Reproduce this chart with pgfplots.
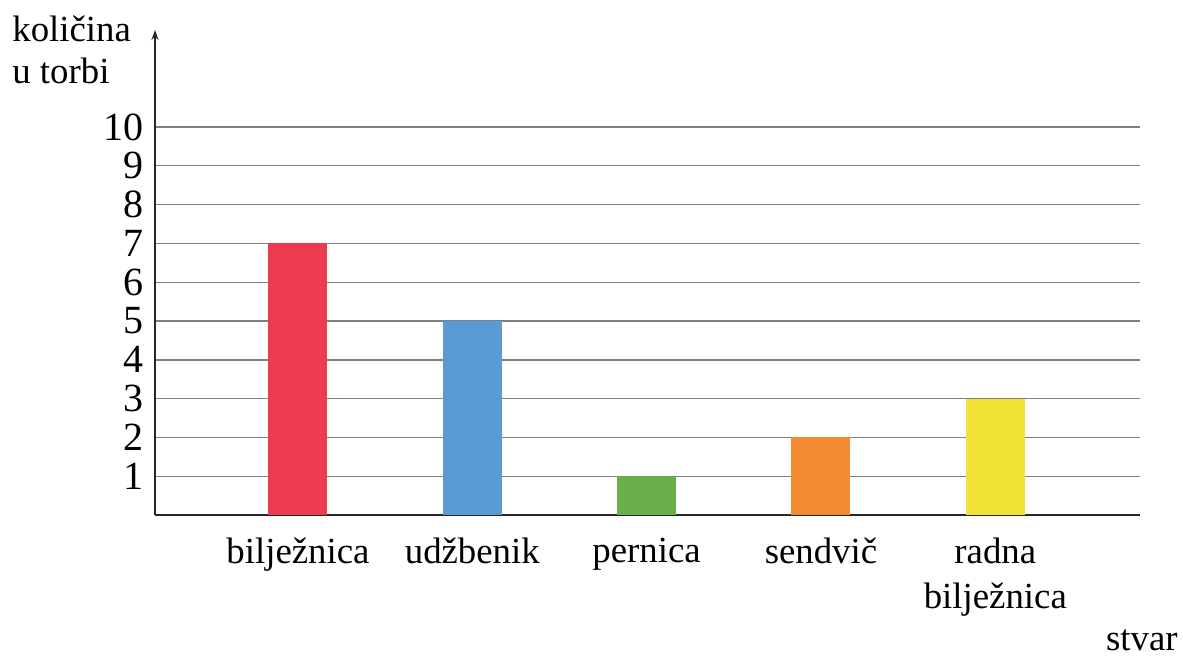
\documentclass[border=0pt]{standalone}
\usepackage{pgfplots}
\pgfplotsset{compat=1.18}
\usepackage{fontspec}
\setmainfont{Liberation Serif}
\usetikzlibrary{arrows.meta}
\definecolor{cred}{HTML}{EE3A4F}
\definecolor{cblue}{HTML}{5B9BD5}
\definecolor{cgreen}{HTML}{6AAE4A}
\definecolor{corange}{HTML}{F38A31}
\definecolor{cyellow}{HTML}{F0E335}
\begin{document}
\begin{tikzpicture}
\begin{axis}[
  at={(0,0)}, anchor=south west,
  scale only axis,
  width=492.5pt, height=242.5pt,
  xmin=0.18, xmax=5.83, ymin=0, ymax=12.5,
  axis x line=bottom, axis y line=left,
  x axis line style={-},
  y axis line style={-{Stealth[length=5pt,width=3.5pt]}},
  axis line style={color=black!85, line width=0.8pt},
  ytick={1,...,10},
  ymajorgrids,
  grid style={color=black!50, line width=0.7pt},
  major tick length=0pt,
  xtick={1,2,3,4,5},
  xticklabels={bilježnica,udžbenik,pernica,sendvič,radna\\bilježnica},
  xticklabel style={align=center, font=\fontsize{18.4pt}{22.5pt}\selectfont, yshift=-8pt},
  yticklabel style={font=\fontsize{20pt}{22pt}\selectfont, xshift=-2pt},
  /pgf/number format/assume math mode=true,
  ybar, bar width=29.5pt,
]
\addplot[fill=cred, draw=none, bar shift=0pt] coordinates {(1,7)};
\addplot[fill=cblue, draw=none, bar shift=0pt] coordinates {(2,5)};
\addplot[fill=cgreen, draw=none, bar shift=0pt] coordinates {(3,1)};
\addplot[fill=corange, draw=none, bar shift=0pt] coordinates {(4,2)};
\addplot[fill=cyellow, draw=none, bar shift=0pt] coordinates {(5,3)};
\end{axis}
\node[anchor=north west, align=left, inner sep=0pt, font=\fontsize{18.4pt}{21pt}\selectfont] at (-71.5pt,250pt) {količina\\u torbi};
\node[anchor=base east, inner sep=0pt, font=\fontsize{18.4pt}{21pt}\selectfont] at (511.5pt,-67.5pt) {stvar};
\pgfresetboundingbox
\path (-77.5pt,-72pt) rectangle (514pt,257.5pt);
\end{tikzpicture}
\end{document}
